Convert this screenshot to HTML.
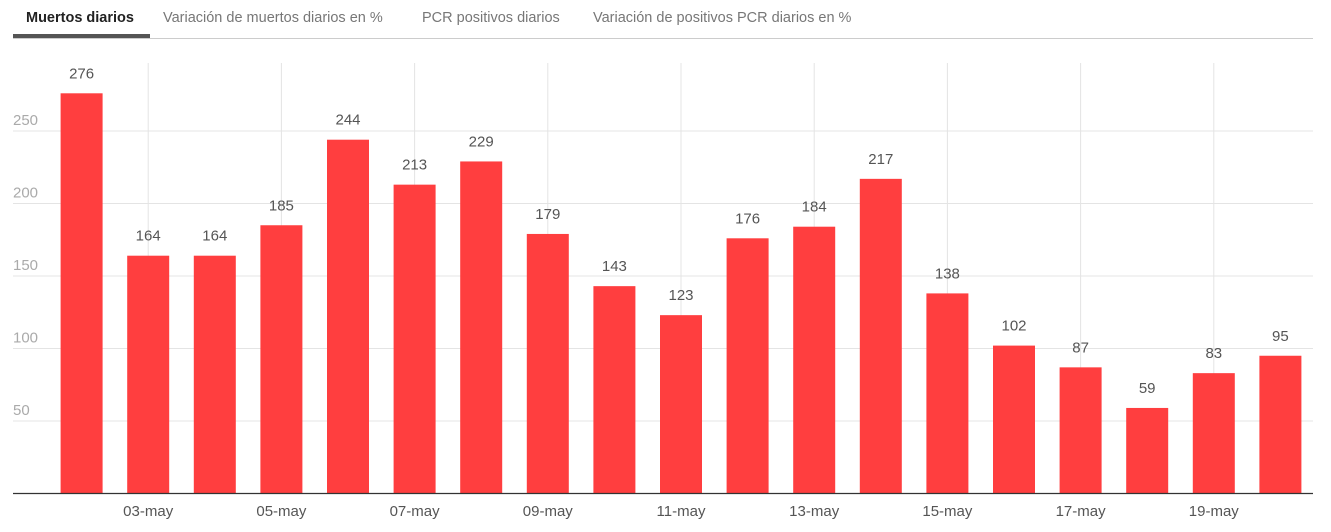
<!DOCTYPE html>
<html><head><meta charset="utf-8"><style>
body{margin:0;background:#fff;font-family:"Liberation Sans",sans-serif;}
.tabs{position:absolute;left:13px;top:0;width:1300px;height:38px;border-bottom:1px solid #ccc;}
.tab{position:absolute;top:10px;font-size:14.5px;color:#777;white-space:nowrap;}
.tab.active{color:#222;font-weight:bold;}
.ul{position:absolute;left:0;top:34px;width:137px;height:4px;background:#555;}
</style></head><body>
<div class="tabs">
<div class="tab active" style="left:13px">Muertos diarios</div>
<div class="tab" style="left:150px">Variación de muertos diarios en %</div>
<div class="tab" style="left:409px">PCR positivos diarios</div>
<div class="tab" style="left:580px">Variación de positivos PCR diarios en %</div>
<div class="ul"></div>
</div>
<svg id="c" width="1331" height="532" style="position:absolute;left:0;top:0"></svg>
<script>
const categories=["02-may","03-may","04-may","05-may","06-may","07-may","08-may","09-may","10-may","11-may","12-may","13-may","14-may","15-may","16-may","17-may","18-may","19-may","20-may"];
const values=[276,164,164,185,244,213,229,179,143,123,176,184,217,138,102,87,59,83,95];
const yTicks=[50,100,150,200,250];
const ns="http://www.w3.org/2000/svg";
const svg=document.getElementById('c');
const x0=81.6,step=66.6,bw=42;
const xc=i=>x0+step*i;
const y=v=>493.5-v*1.45;
function mk(t,a){const e=document.createElementNS(ns,t);for(const k in a)e.setAttribute(k,a[k]);svg.appendChild(e);return e;}
yTicks.forEach(v=>{
 const l=mk('line',{x1:13,x2:1313,y1:y(v),y2:y(v),stroke:'#e4e4e4'});
 
 
 const t=mk('text',{x:13,y:y(v)-6,'font-size':15,fill:'#aaa'});t.textContent=v;
 
 
});
categories.forEach((c,i)=>{
 if(i%2==1){
  const g=mk('line',{x1:xc(i),x2:xc(i),y1:63,y2:493,stroke:'#e4e4e4'});
  
  
  const t=mk('text',{x:xc(i),y:516,'font-size':15,fill:'#555','text-anchor':'middle'});t.textContent=c;
  
  
 }
});
values.forEach((v,i)=>{
 const r=mk('rect',{x:xc(i)-bw/2,y:y(v),width:bw,height:y(0)-y(v),fill:'#ff3e3f'});
 
 
 const t=mk('text',{x:xc(i),y:y(v)-15,'font-size':15,fill:'#555','text-anchor':'middle'});t.textContent=v;
 
 
});
const ax=mk('line',{x1:13,x2:1313,y1:493.5,y2:493.5,stroke:'#333','stroke-width':1.2});


</script>
</body></html>
